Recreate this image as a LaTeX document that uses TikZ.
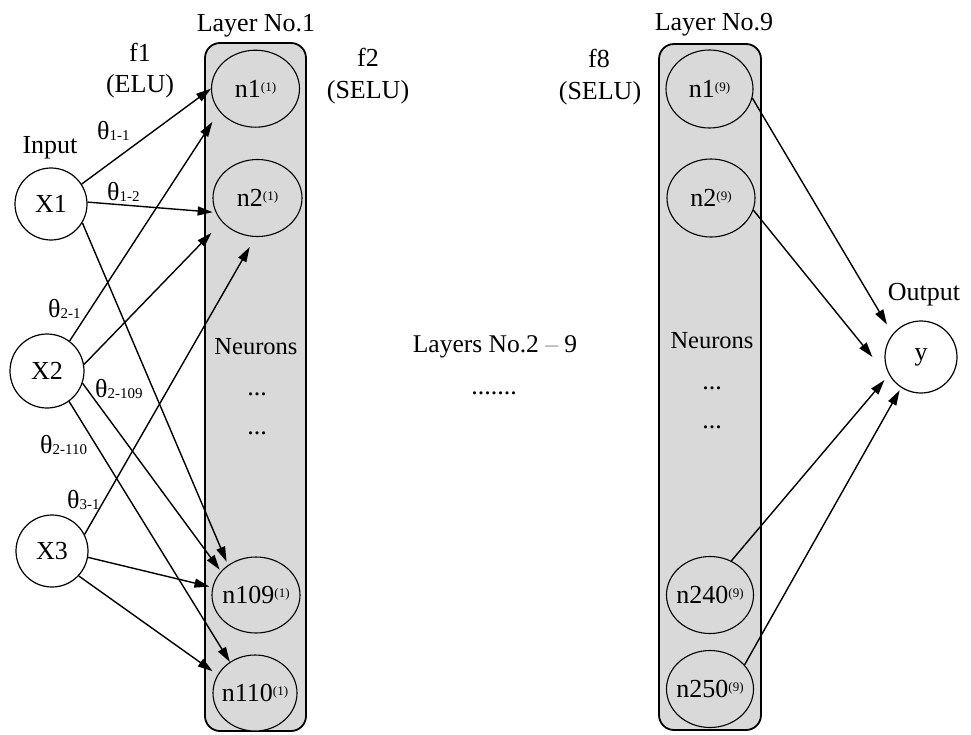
\documentclass[tikz,border=0pt]{standalone}
\usepackage{fontspec}
\setmainfont{Liberation Serif}
\usetikzlibrary{arrows.meta,shapes.geometric}

\definecolor{layerfill}{HTML}{D9D9D9}
\definecolor{dashgray}{HTML}{A0A0A0}

\tikzset{
  lbl/.style={font=\fontsize{26}{29}\selectfont, inner sep=0pt, anchor=base},
  lblw/.style={lbl, anchor=base west},
  layerbox/.style={draw, line width=1.8pt, fill=layerfill, rounded corners=15pt,
    inner sep=0pt},
  neuron/.style={ellipse, draw, line width=1.1pt, fill=layerfill, inner sep=0pt,
    minimum width=88pt, minimum height=77pt, font=\fontsize{26}{29}\selectfont},
  io/.style={circle, draw, line width=1.2pt, fill=white, inner sep=0pt,
    minimum size=72pt, font=\fontsize{26}{29}\selectfont},
  conn/.style={line width=1.4pt, -{Triangle[length=15pt,width=9pt]}},
}
\newcommand{\nsup}[2]{\makebox[0pt]{#1\raisebox{6pt}{\fontsize{13}{13}\selectfont(#2)}}}
\newcommand{\wgt}[1]{θ\raisebox{-1.5pt}{\fontsize{15}{15}\selectfont #1}}

\begin{document}
\begin{tikzpicture}[x=1pt,y=-1pt]
\useasboundingbox (0,0) rectangle (971,734);

% layer containers
\node[layerbox, minimum width=101pt, minimum height=688pt] (L1) at (255.5,387) {};
\node[layerbox, minimum width=102pt, minimum height=686pt] (L9) at (710,387) {};

% neurons of layer 1
\node[neuron] (a1) at (255.5,88.7) {\nsup{n1}{1}};
\node[neuron, minimum width=89pt] (a2) at (257.5,198) {\nsup{n2}{1}};
\node[neuron, minimum height=76pt] (a109) at (256,595) {\nsup{n109}{1}};
\node[neuron, minimum width=84pt, minimum height=76pt] (a110) at (255,693) {\nsup{n110}{1}};

% neurons of layer 9
\node[neuron, minimum width=87pt, minimum height=78pt] (b1) at (709.5,89) {\nsup{n1}{9}};
\node[neuron, minimum width=88pt, minimum height=78pt] (b2) at (711,198) {\nsup{n2}{9}};
\node[neuron, minimum width=87pt] (b240) at (710,595) {\nsup{n240}{9}};
\node[neuron, minimum width=87pt] (b250) at (710,689) {\nsup{n250}{9}};

% inputs and output
\node[io] (x1) at (51,204) {X1};
\node[io, minimum size=74pt] (x2) at (47,371) {X2};
\node[io] (x3) at (52,551) {X3};
\node[io] (y) at (921,357) {y};

% titles and annotations
\node[lbl] (t1) at (256,31) {Layer No.1};
\node[lbl] (t9) at (714,30) {Layer No.9};
\node[lbl] (f1) at (140,61) {f1};
\node[lbl] (f1n) at (140,92) {(ELU)};
\node[lbl] (f2) at (368,66) {f2};
\node[lbl] (f2n) at (368,98) {(SELU)};
\node[lbl] (f8) at (599,67) {f8};
\node[lbl] (f8n) at (600,99) {(SELU)};
\node[lbl] (tin) at (50,153) {Input};
\node[lbl] (tout) at (924,300) {Output};
\node[lbl, font=\fontsize{25.5}{29}\selectfont] (mid) at (495,352)
  {Layers No.2 {\color{dashgray}–} 9};
\node[lbl] (middots) at (494,394) {.......};

\node[lbl, font=\fontsize{24.5}{28}\selectfont] (nr1) at (256,354) {Neurons};
\node[lbl] (d1a) at (257,395) {...};
\node[lbl] (d1b) at (257,434) {...};
\node[lbl, font=\fontsize{24.5}{28}\selectfont] (nr9) at (712,348) {Neurons};
\node[lbl] (d9a) at (712,389) {...};
\node[lbl] (d9b) at (712,428) {...};

% weight labels
\node[lblw] (w11) at (97,139) {\wgt{1-1}};
\node[lblw] (w12) at (107,200) {\wgt{1-2}};
\node[lblw] (w21) at (48,317) {\wgt{2-1}};
\node[lblw] (w2109) at (95,397) {\wgt{2-109}};
\node[lblw] (w2110) at (40,453) {\wgt{2-110}};
\node[lblw] (w31) at (67,508) {\wgt{3-1}};

% connections into layer 1
\draw[conn] (x1.33) -- (a1.180);
\draw[conn, shorten >=3pt] (x1.3) -- (a2.199);
\draw[conn, shorten >=3.6pt] (x1.-31) -- (a109.133);
\draw[conn, shorten >=12.5pt] (x2.53) -- (a1.212.6);
\draw[conn, shorten >=15pt] (x2.10) -- (a2.214.8);
\draw[conn, shorten >=2pt] (x2.-19) -- (a109.146.2);
\draw[conn] (x2.-54) -- (a110.129.8);
\draw[conn, shorten >=11.5pt] (x3.27) -- (a2.267.4);
\draw[conn, shorten >=3pt] (x3.-10) -- (a109.170.4);
\draw[conn, shorten >=6pt] (x3.-43) -- (a110.154.7);

% connections from layer 9 to the output
\draw[conn, shorten >=11pt] (b1.348) -- (y.141.6);
\draw[conn] (b2.344.4) -- ([xshift=-12pt]y.west);
\draw[conn, shorten >=7pt] (b240.58.6) -- (y.209.3);
\draw[conn, shorten >=3pt] (b250.35) -- (y.237.3);
\end{tikzpicture}
\end{document}
